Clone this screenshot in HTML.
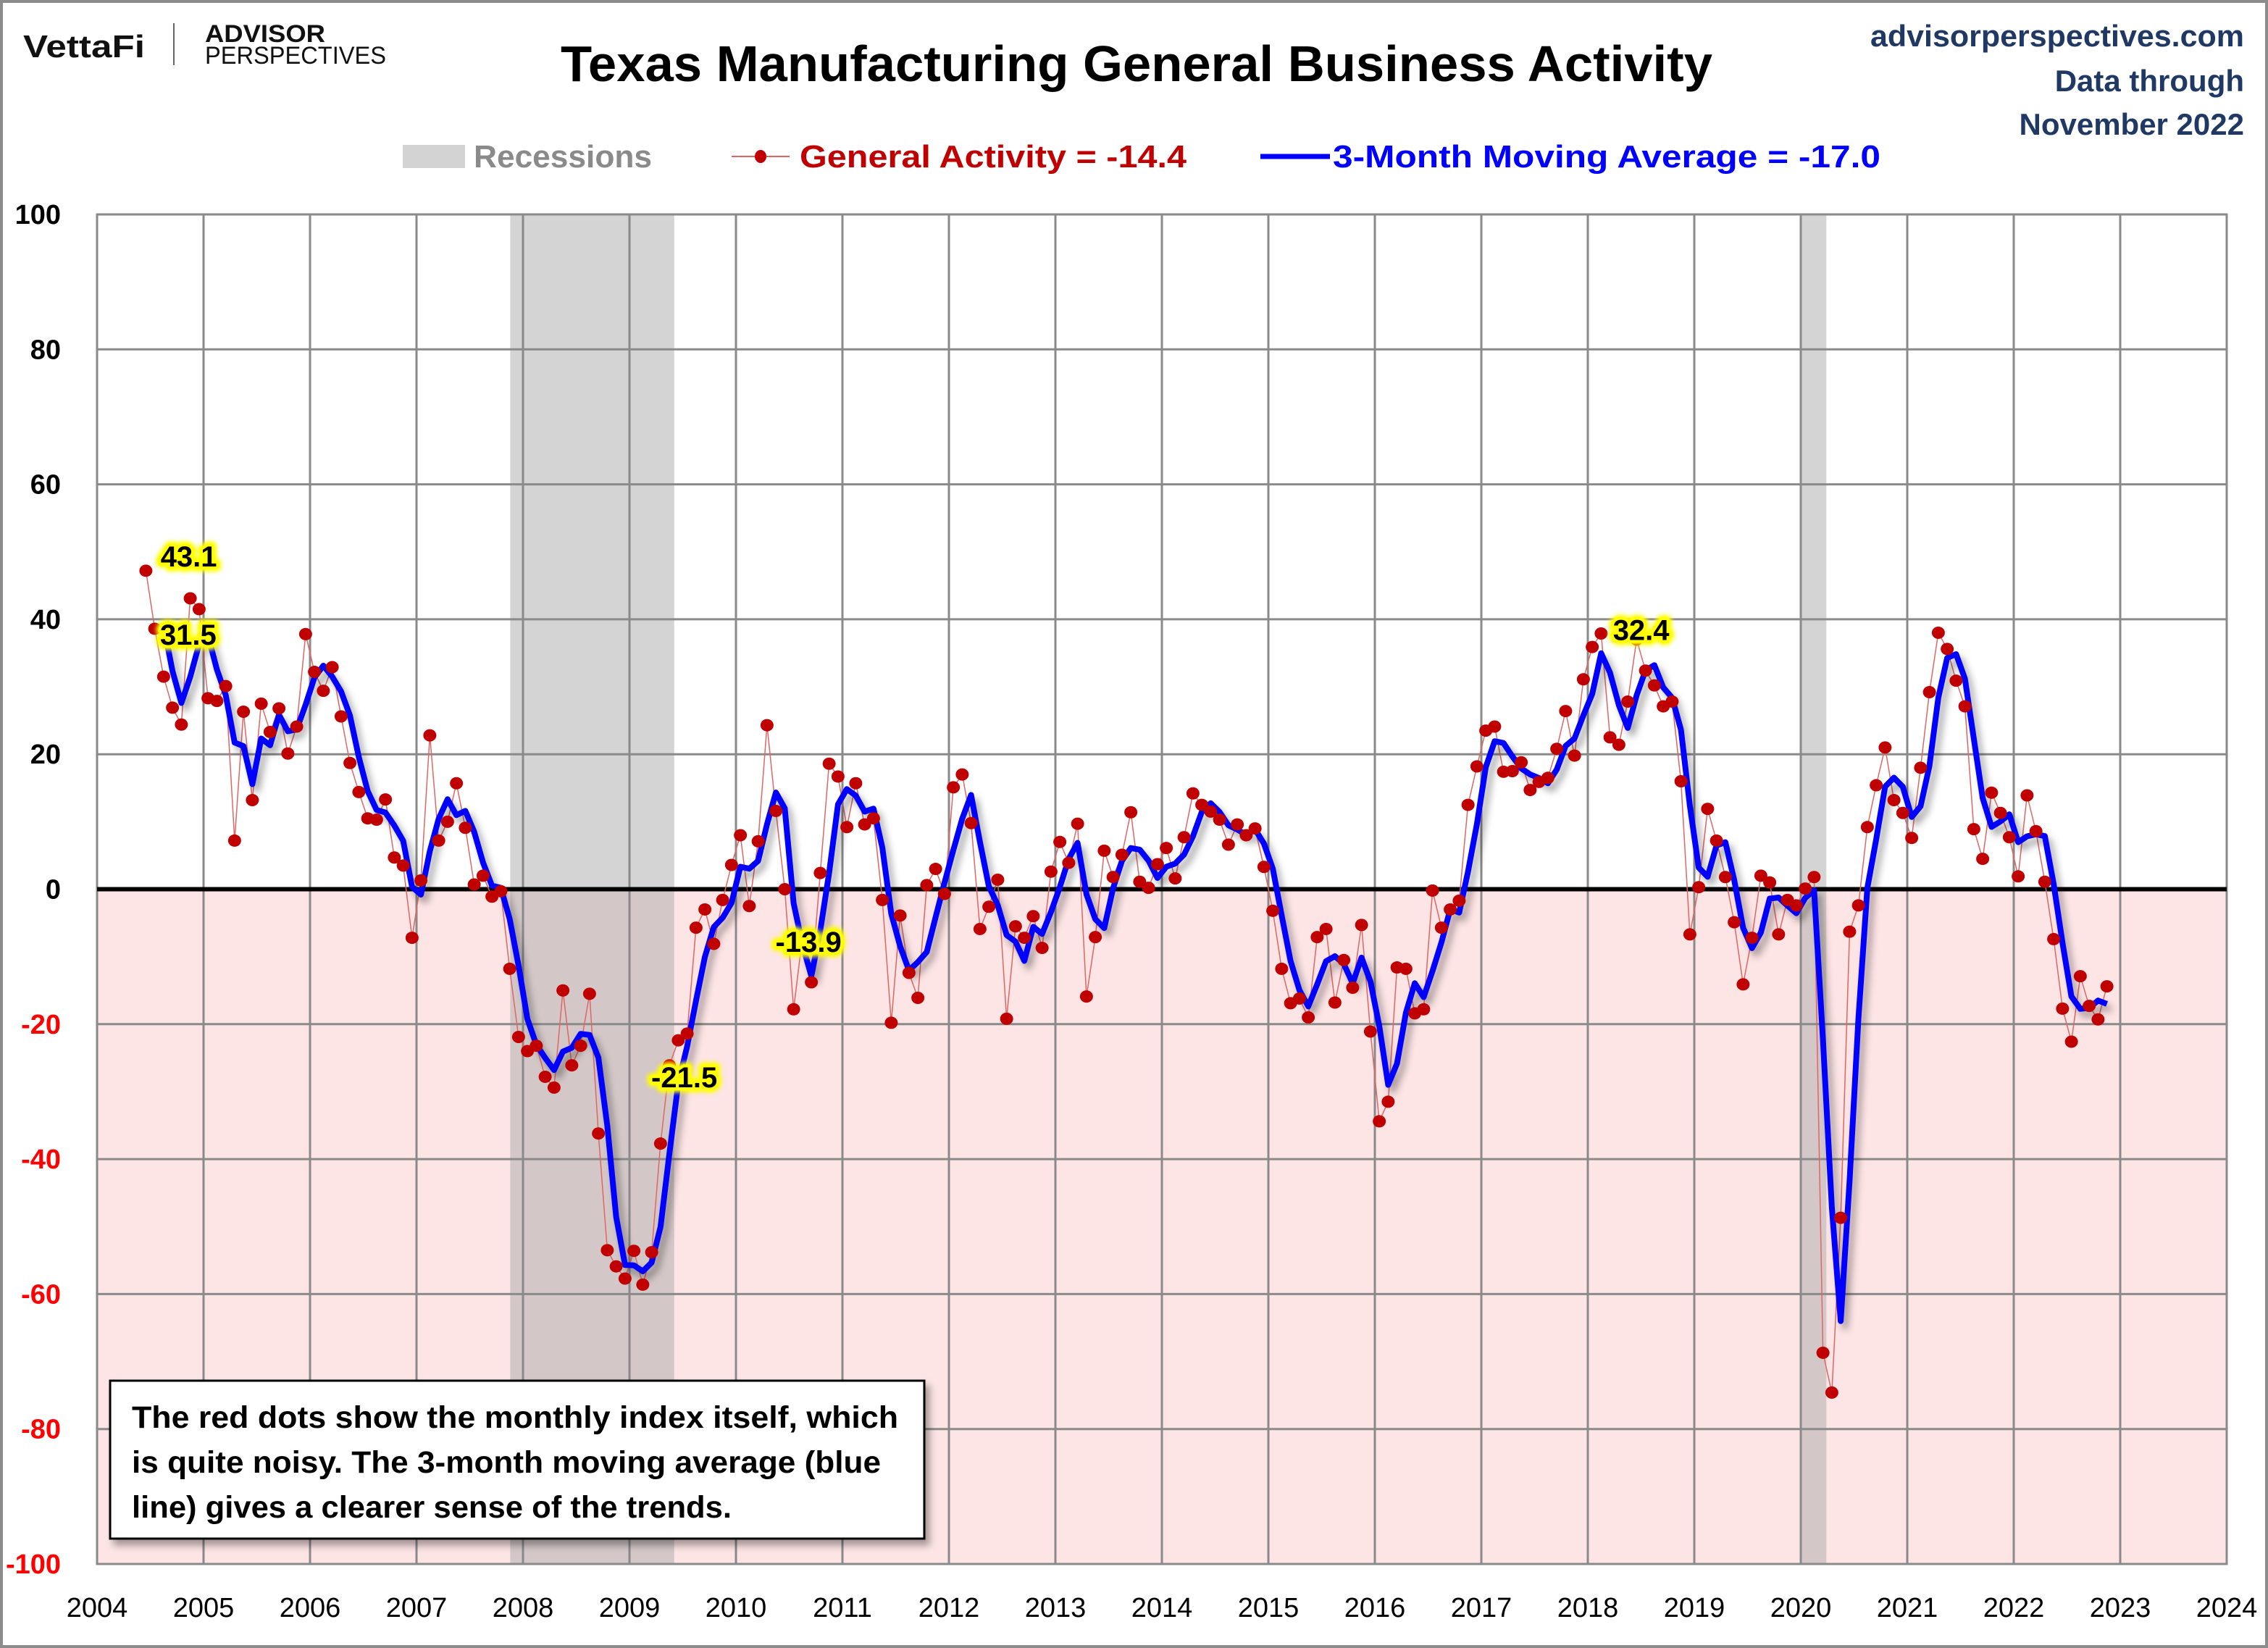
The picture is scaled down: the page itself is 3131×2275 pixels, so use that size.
<!DOCTYPE html>
<html><head><meta charset="utf-8"><title>Texas Manufacturing General Business Activity</title>
<style>
html,body{margin:0;padding:0;background:#fff;}
svg{display:block;font-family:"Liberation Sans",Arial,sans-serif;}
</style></head>
<body>
<svg id="chart" width="3131" height="2275" viewBox="0 0 3131 2275" xmlns="http://www.w3.org/2000/svg">
<defs>
<filter id="shadow" x="-5%" y="-5%" width="110%" height="115%">
<feDropShadow dx="6" dy="8" stdDeviation="5" flood-color="#000" flood-opacity="0.35"/>
</filter>
<filter id="glow" x="-20%" y="-30%" width="140%" height="160%">
<feGaussianBlur stdDeviation="3"/>
</filter>
</defs>
<rect x="2" y="2" width="3127" height="2271" fill="#fff" stroke="#8c8c8c" stroke-width="4"/>
<g>
<text x="32" y="79" font-size="44" font-weight="bold" fill="#111" textLength="168" lengthAdjust="spacingAndGlyphs">VettaFi</text>
<line x1="240" y1="32" x2="240" y2="90" stroke="#666" stroke-width="2"/>
<text x="283" y="58" font-size="34" font-weight="bold" fill="#111" textLength="166" lengthAdjust="spacingAndGlyphs">ADVISOR</text>
<text x="283" y="88" font-size="34" fill="#111" textLength="250" lengthAdjust="spacingAndGlyphs">PERSPECTIVES</text>
</g>
<text x="774" y="112" font-size="70" font-weight="bold" fill="#000" textLength="1590" lengthAdjust="spacingAndGlyphs">Texas Manufacturing General Business Activity</text>
<g font-weight="bold" fill="#1f3864" font-size="42" text-anchor="end">
<text x="3098" y="64" textLength="516" lengthAdjust="spacingAndGlyphs">advisorperspectives.com</text>
<text x="3098" y="126">Data through</text>
<text x="3098" y="186">November 2022</text>
</g>
<g font-weight="bold" font-size="44">
<rect x="556" y="200" width="86" height="32" fill="#d3d3d3"/>
<text x="654" y="231" fill="#8a8a8a" textLength="246" lengthAdjust="spacingAndGlyphs">Recessions</text>
<line x1="1010" y1="216" x2="1090" y2="216" stroke="#e06666" stroke-width="2"/>
<ellipse cx="1050" cy="216" rx="8" ry="9" fill="#c00000"/>
<text x="1104" y="231" fill="#c00000" textLength="534" lengthAdjust="spacingAndGlyphs">General Activity = -14.4</text>
<line x1="1740" y1="216" x2="1836" y2="216" stroke="#0000ff" stroke-width="7"/>
<text x="1840" y="231" fill="#0000ff" textLength="756" lengthAdjust="spacingAndGlyphs">3-Month Moving Average = -17.0</text>
</g>
<g id="plot"></g>
<g>
<rect x="152" y="1906" width="1124" height="218" fill="#fff" stroke="#000" stroke-width="3" filter="url(#shadow)"/>
<g font-size="43" font-weight="bold" fill="#000">
<text x="182" y="1971" textLength="1058" lengthAdjust="spacingAndGlyphs">The red dots show the monthly  index itself, which</text>
<text x="182" y="2033" textLength="1034" lengthAdjust="spacingAndGlyphs">is quite noisy. The 3-month moving average (blue</text>
<text x="182" y="2095" textLength="828" lengthAdjust="spacingAndGlyphs">line) gives a clearer sense of the trends.</text>
</g>
</g>
</svg>
<script>
// ---- data ----
const startYear = 2004;
const startMonth = 6; // June 2004
const generalActivity = [
47.2, 38.6, 31.5, 26.9, 24.4, 43.1, 41.5,
28.3, 27.9, 30.1, 7.2, 26.3, 13.2, 27.5, 23.3, 26.8, 20.1, 24.1, 37.8,
32.2, 29.4, 32.9, 25.6, 18.7, 14.4, 10.5, 10.3, 13.3, 4.7, 3.5, -7.2,
1.3, 22.8, 7.2, 10.0, 15.7, 9.1, 0.7, 2.0, -1.1, -0.3, -11.8, -21.9,
-24.0, -23.2, -27.8, -29.4, -15.0, -26.1, -23.2, -15.5, -36.2, -53.5, -55.9, -57.7,
-53.6, -58.6, -53.8, -37.7, -26.1, -22.4, -21.4, -5.7, -3.0, -8.1, -1.6, 3.6,
8.0, -2.5, 7.1, 24.3, 11.6, 0.0, -17.8, -7.0, -13.8, 2.4, 18.6, 16.7,
9.2, 15.7, 9.6, 10.5, -1.6, -19.8, -3.9, -12.4, -16.1, 0.6, 3.0, -0.7,
15.1, 17.0, 9.8, -5.9, -2.6, 1.4, -19.2, -5.5, -7.2, -4.0, -8.7, 2.6,
7.0, 3.9, 9.7, -15.9, -7.1, 5.7, 1.8, 5.1, 11.4, 1.1, 0.2, 3.7,
6.1, 1.6, 7.7, 14.2, 12.5, 11.5, 10.3, 6.6, 9.6, 8.0, 9.0, 3.3,
-3.2, -11.8, -16.9, -16.2, -19.0, -7.1, -5.9, -16.8, -10.5, -14.6, -5.3, -21.1,
-34.4, -31.5, -11.6, -11.8, -18.4, -17.8, -0.2, -5.7, -3.0, -1.7, 12.5, 18.2,
23.5, 24.1, 17.4, 17.5, 18.8, 14.7, 15.9, 16.5, 20.8, 26.4, 19.8, 31.1,
35.9, 37.9, 22.5, 21.4, 27.8, 37.0, 32.4, 30.2, 27.1, 27.8, 16.0, -6.7,
0.3, 11.9, 7.2, 1.8, -4.9, -14.1, -7.2, 2.0, 1.0, -6.7, -1.6, -2.4,
0.1, 1.8, -68.7, -74.6, -48.7, -6.3, -2.4, 9.2, 15.4, 21.0, 13.2, 11.3,
7.6, 18.0, 29.2, 38.0, 35.6, 30.9, 27.1, 8.9, 4.5, 14.3, 11.3, 7.7,
1.9, 13.9, 8.6, 1.1, -7.4, -17.7, -22.6, -12.9, -17.3, -19.3, -14.4
];
const recessionStarts = [2007.88, 2019.99];
const recessionEnds = [2009.42, 2020.24];
const yTicks = [100, 80, 60, 40, 20, 0, -20, -40, -60, -80, -100];
const xTicks = [2004,2005,2006,2007,2008,2009,2010,2011,2012,2013,2014,2015,2016,2017,2018,2019,2020,2021,2022,2023,2024];
const annotationTexts = ["43.1", "31.5", "-21.5", "-13.9", "32.4"];
const annotationMonths = [5, 2, 61, 75, 169];
const annotationOffsets = [[-2, -44], [34, -44], [-4, 74], [-4, -42], [-6, -42]];

// ---- axes ----
const X0 = 134, X1 = 3074, Y0 = 296, Y1 = 2159;
const xMin = 2004, xMax = 2024, yMin = -100, yMax = 100;
function xs(t){ return X0 + (t - xMin) / (xMax - xMin) * (X1 - X0); }
function ys(v){ return Y1 - (v - yMin) / (yMax - yMin) * (Y1 - Y0); }
function monthT(i){ return startYear + (startMonth - 1 + i + 0.5) / 12; }

const NS = "http://www.w3.org/2000/svg";
const plot = document.getElementById("plot");
function mk(tag, attrs, parent){
  const e = document.createElementNS(NS, tag);
  for (const k in attrs) e.setAttribute(k, attrs[k]);
  (parent || plot).appendChild(e);
  return e;
}

let bg = mk("rect", {x:X0, y:Y0, width:X1-X0, height:Y1-Y0, fill:"#fff"});


let neg = mk("rect", {x:X0, y:ys(0), width:X1-X0, height:Y1-ys(0), fill:"#fde4e5"});



for (let r = 0; r < recessionStarts.length; r++){
  const a = xs(recessionStarts[r]), b = xs(recessionEnds[r]);
  const rb = mk("rect", {x:a, y:Y0, width:b-a, height:Y1-Y0, fill:"#a9a9a9", "fill-opacity":"0.5"});
  
  
}

for (const v of yTicks){
  const g = mk("line", {x1:X0, x2:X1, y1:ys(v), y2:ys(v), stroke:"#8a8a8a", "stroke-width":3});
  
  
  const lab = mk("text", {x:84, y:ys(v)+13, "text-anchor":"end", "font-size":38, "font-weight":"bold", fill: v < 0 ? "#ff0000" : "#000"});
  lab.textContent = String(v);
  
  
}
for (const yr of xTicks){
  const g = mk("line", {x1:xs(yr), x2:xs(yr), y1:Y0, y2:Y1, stroke:"#8a8a8a", "stroke-width":3});
  
  
  const lab = mk("text", {x:xs(yr), y:2232, "text-anchor":"middle", "font-size":38, fill:"#000"});
  lab.textContent = String(yr);
  
  
}
let border = mk("rect", {x:X0, y:Y0, width:X1-X0, height:Y1-Y0, fill:"none", stroke:"#8a8a8a", "stroke-width":3});


let zero = mk("line", {x1:X0, x2:X1, y1:ys(0), y2:ys(0), stroke:"#000", "stroke-width":6});



let pts = generalActivity.map((v,i) => xs(monthT(i)).toFixed(1) + "," + ys(v).toFixed(1)).join(" ");
let conn = mk("polyline", {points:pts, fill:"none", stroke:"#e06666", "stroke-width":1.5});



const ma = [];
for (let i = 2; i < generalActivity.length; i++){
  ma.push([i, (generalActivity[i] + generalActivity[i-1] + generalActivity[i-2]) / 3]);
}
let maPts = ma.map(p => xs(monthT(p[0])).toFixed(1) + "," + ys(p[1]).toFixed(1)).join(" ");
let maLine = mk("polyline", {points:maPts, fill:"none", stroke:"#0000ff", "stroke-width":8, "stroke-linejoin":"round", filter:"url(#shadow)"});



generalActivity.forEach((v,i) => {
  const d = mk("ellipse", {cx:xs(monthT(i)), cy:ys(v), rx:9, ry:8.5, fill:"#c00000"});
  
  
});

annotationTexts.forEach((txt, k) => {
  const i = annotationMonths[k];
  const x = xs(monthT(i)) + annotationOffsets[k][0];
  const y = ys(generalActivity[i]) + annotationOffsets[k][1];
  const g = mk("g", {});
  
  
  mk("text", {x:x, y:y, "text-anchor":"middle", "font-size":40, "font-weight":"bold", fill:"#ffff00", stroke:"#ffff00", "stroke-width":14, "stroke-linejoin":"round", filter:"url(#glow)"}, g).textContent = txt;
  mk("text", {x:x, y:y, "text-anchor":"middle", "font-size":40, "font-weight":"bold", fill:"#ffff00", stroke:"#ffff00", "stroke-width":8, "stroke-linejoin":"round"}, g).textContent = txt;
  mk("text", {x:x, y:y, "text-anchor":"middle", "font-size":40, "font-weight":"bold", fill:"#000"}, g).textContent = txt;
});
</script>
</body></html>
